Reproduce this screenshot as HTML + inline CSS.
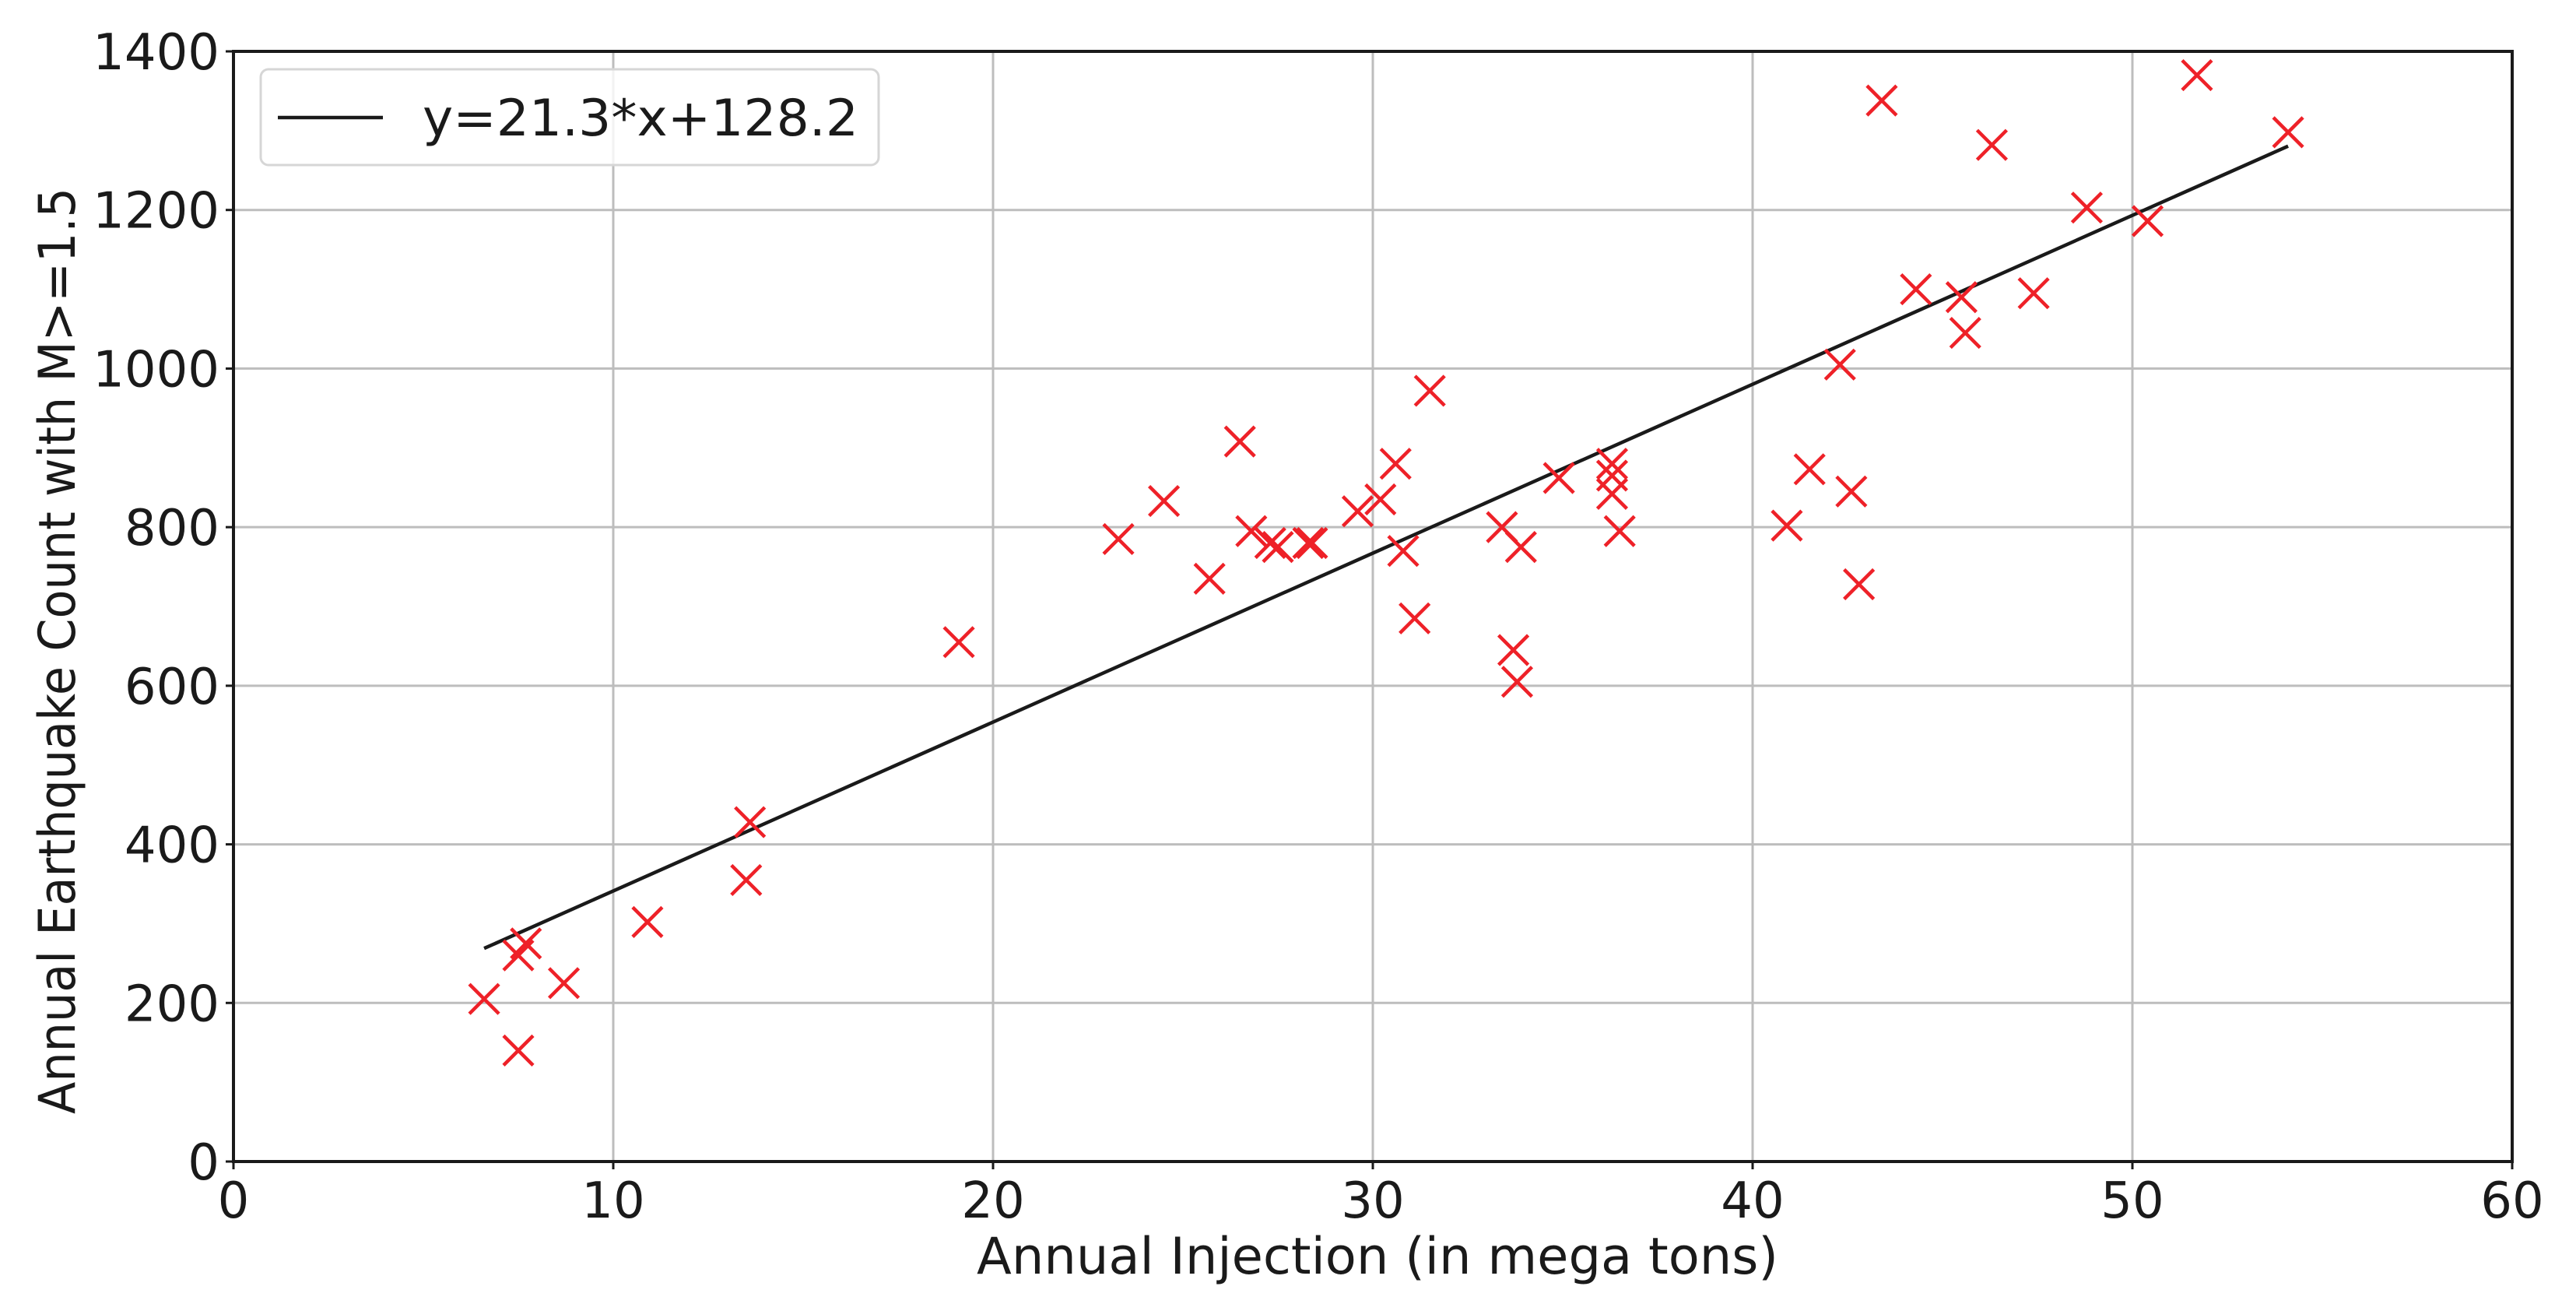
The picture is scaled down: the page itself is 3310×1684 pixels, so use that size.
<!DOCTYPE html>
<html><head><meta charset="utf-8"><style>
html,body{margin:0;padding:0;background:#fff;}
svg{display:block;}
text{font-family:"DejaVu Sans","Liberation Sans",sans-serif;fill:#1a1a1a;}
</style></head><body>
<svg id="chart" width="3310" height="1684" viewBox="0 0 3310 1684" xmlns="http://www.w3.org/2000/svg">
<g id="grid"></g>
<g id="fit"></g>
<g id="points"></g>
<g id="axes"></g>
<g>
<rect x="335" y="89" width="794" height="123" rx="10" fill="#fff" fill-opacity="0.8" stroke="#d6d6d6" stroke-width="3"/>
<line x1="357" y1="151" x2="492" y2="151" stroke="#1a1a1a" stroke-width="4.5"/>
<text x="543" y="174" font-size="65" textLength="560" lengthAdjust="spacingAndGlyphs">y=21.3*x+128.2</text>
</g>
<text x="1770" y="1636" font-size="65" text-anchor="middle" textLength="1030" lengthAdjust="spacingAndGlyphs">Annual Injection (in mega tons)</text>
<text x="0" y="0" font-size="65" text-anchor="middle" transform="translate(96,836) rotate(-90)" textLength="1190" lengthAdjust="spacingAndGlyphs">Annual Earthquake Count with M&gt;=1.5</text>
</svg>
<script>
const xData = [6.6,7.5,7.5,7.7,8.7,10.9,13.6,13.5,19.1,23.3,24.5,25.7,26.5,26.8,27.3,27.5,28.3,28.4,29.6,30.2,30.6,30.8,31.1,31.5,33.4,33.7,33.8,33.9,34.9,36.3,36.3,36.3,36.5,40.9,41.5,42.3,42.6,42.8,43.4,44.3,45.5,45.6,46.3,47.4,48.8,50.4,51.7,54.1];
const yData = [205,140,260,275,225,302,428,355,655,785,833,735,908,795,780,775,780,780,820,835,880,770,685,972,800,645,605,775,862,880,842,865,795,802,873,1005,845,728,1338,1100,1090,1045,1282,1095,1203,1186,1370,1298];
const xTicks = [0,10,20,30,40,50,60];
const yTicks = [0,200,400,600,800,1000,1200,1400];
const fitSlope = 21.3;
const fitIntercept = 128.2;

const L=300,R=3228,T=66,B=1492;
const sx=v=>L+(v-0)/(60-0)*(R-L);
const sy=v=>B-(v-0)/(1400-0)*(B-T);
const NS='http://www.w3.org/2000/svg';
function mk(tag,attrs,parent){const e=document.createElementNS(NS,tag);for(const k in attrs)e.setAttribute(k,attrs[k]);parent.appendChild(e);return e;}
const grid=document.getElementById('grid'),axes=document.getElementById('axes'),pts=document.getElementById('points'),fit=document.getElementById('fit');
xTicks.forEach(t=>{
  const x=sx(t);
  if(t>0&&t<60){const g=mk('line',{x1:x,y1:T,x2:x,y2:B,stroke:'#bdbdbd','stroke-width':3},grid);
  
  }
  const tk=mk('line',{x1:x,y1:B,x2:x,y2:B+10,stroke:'#1a1a1a','stroke-width':3},axes);
  
  
  const lb=mk('text',{x:x,y:B+72,'font-size':64,'text-anchor':'middle'},axes);
  lb.textContent=t;
  
  
});
yTicks.forEach(t=>{
  const y=sy(t);
  if(t>0&&t<1400){const g=mk('line',{x1:L,y1:y,x2:R,y2:y,stroke:'#bdbdbd','stroke-width':3},grid);
  
  }
  const tk=mk('line',{x1:L-10,y1:y,x2:L,y2:y,stroke:'#1a1a1a','stroke-width':3},axes);
  
  
  const lb=mk('text',{x:L-18,y:y+23,'font-size':64,'text-anchor':'end'},axes);
  lb.textContent=t;
  
  
});
const frame=mk('rect',{x:L,y:T,width:R-L,height:B-T,fill:'none',stroke:'#1a1a1a','stroke-width':4},axes);


const xmin=Math.min(...xData),xmax=Math.max(...xData);
const fl=mk('line',{x1:sx(xmin),y1:sy(fitSlope*xmin+fitIntercept),x2:sx(xmax),y2:sy(fitSlope*xmax+fitIntercept),stroke:'#1a1a1a','stroke-width':4.5},fit);


const h=19;
xData.forEach((xv,i)=>{
  const cx=sx(xv),cy=sy(yData[i]);
  const p=mk('path',{d:`M${cx-h},${cy-h}L${cx+h},${cy+h}M${cx-h},${cy+h}L${cx+h},${cy-h}`,stroke:'#ee2128','stroke-width':4.5,fill:'none'},pts);
  
  
});
</script>
</body></html>
